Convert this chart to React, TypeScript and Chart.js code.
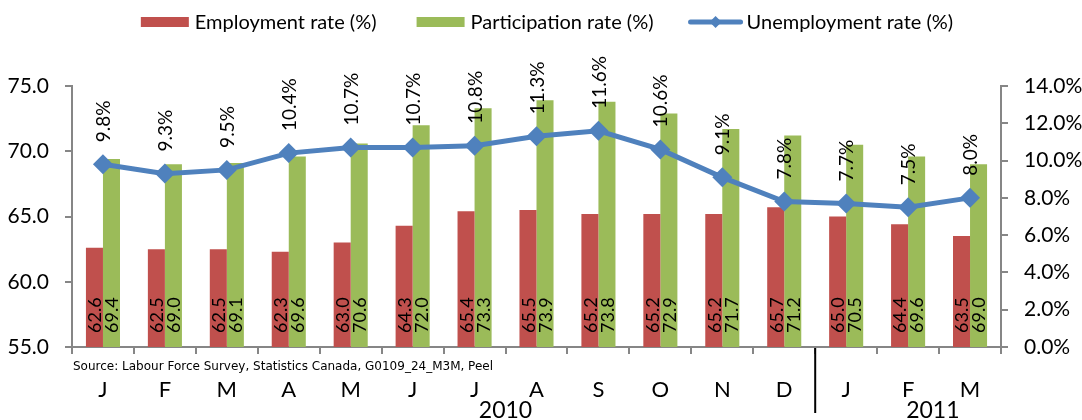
import React, { useEffect, useRef } from 'react';
import { Chart, registerables } from 'chart.js';

Chart.register(...registerables);

const months = ['J', 'F', 'M', 'A', 'M', 'J', 'J', 'A', 'S', 'O', 'N', 'D', 'J', 'F', 'M'];
const employmentRate = [62.6, 62.5, 62.5, 62.3, 63.0, 64.3, 65.4, 65.5, 65.2, 65.2, 65.2, 65.7, 65.0, 64.4, 63.5];
const participationRate = [69.4, 69.0, 69.1, 69.6, 70.6, 72.0, 73.3, 73.9, 73.8, 72.9, 71.7, 71.2, 70.5, 69.6, 69.0];
const unemploymentRate = [9.8, 9.3, 9.5, 10.4, 10.7, 10.7, 10.8, 11.3, 11.6, 10.6, 9.1, 7.8, 7.7, 7.5, 8.0];
const seriesNames = ['Employment rate (%)', 'Participation rate (%)', 'Unemployment rate (%)'];
const yearLabels = ['2010', '2011'];
const yearLabelPositions = [6.5, 13.4];
const yearBreakAfter = 11;
const sourceNote = 'Source: Labour Force Survey, Statistics Canada, G0109_24_M3M, Peel';

const RED = '#C0504D';
const GREEN = '#9BBB59';
const BLUE = '#4F81BD';
const AXIS = '#868686';
const FONT = 'Lato, "Open Sans", sans-serif';

function diamond(ctx: CanvasRenderingContext2D, x: number, y: number, r: number) {
  ctx.beginPath();
  ctx.moveTo(x, y - r);
  ctx.lineTo(x + r, y);
  ctx.lineTo(x, y + r);
  ctx.lineTo(x - r, y);
  ctx.closePath();
  ctx.fill();
}

const overlayPlugin = {
  id: 'overlay',
  afterDatasetsDraw(chart: any) {
    const ctx: CanvasRenderingContext2D = chart.ctx;
    const area = chart.chartArea;
    ctx.save();
    const barSeries = [employmentRate, participationRate];
    [0, 1].forEach((di) => {
      const meta = chart.getDatasetMeta(di);
      meta.data.forEach((el: any, i: number) => {
        const p = el.getProps(['x'], true);
        ctx.save();
        ctx.fillStyle = '#000';
        ctx.translate(p.x, area.bottom - 14);
        ctx.rotate(-Math.PI / 2);
        ctx.font = `18px ${FONT}`;
        ctx.textAlign = 'left';
        ctx.textBaseline = 'middle';
        ctx.fillText(barSeries[di][i].toFixed(1), 0, 1);
        ctx.restore();
      });
    });
    const lmeta = chart.getDatasetMeta(2);
    lmeta.data.forEach((el: any, i: number) => {
      const p = el.getProps(['x', 'y'], true);
      ctx.save();
      ctx.fillStyle = '#000';
      ctx.translate(p.x + 1, p.y - 22);
      ctx.rotate(-Math.PI / 2);
      ctx.font = `19px ${FONT}`;
      ctx.textAlign = 'left';
      ctx.textBaseline = 'middle';
      ctx.fillText(unemploymentRate[i].toFixed(1) + '%', 0, 0);
      ctx.restore();
    });
    ctx.restore();
  },
  afterDraw(chart: any) {
    const ctx: CanvasRenderingContext2D = chart.ctx;
    const xs = chart.scales.x;
    const area = chart.chartArea;
    const step = xs.getPixelForValue(1) - xs.getPixelForValue(0);
    ctx.save();
    ctx.fillStyle = '#000';
    ctx.font = '12px "DejaVu Sans", sans-serif';
    ctx.textAlign = 'left';
    ctx.textBaseline = 'middle';
    ctx.fillText(sourceNote, area.left + 1, area.bottom + 20, 454);
    ctx.font = `23px ${FONT}`;
    ctx.textAlign = 'center';
    ctx.textBaseline = 'top';
    yearLabels.forEach((y, i) => {
      const x = xs.getPixelForValue(0) + yearLabelPositions[i] * step;
      ctx.fillText(y, x, area.bottom + 52);
    });
    const dx = xs.getPixelForValue(yearBreakAfter) + step / 2;
    ctx.strokeStyle = '#000';
    ctx.lineWidth = 2;
    ctx.beginPath();
    ctx.moveTo(dx, area.bottom + 1);
    ctx.lineTo(dx, area.bottom + 66);
    ctx.stroke();
    // legend
    ctx.font = `20px ${FONT}`;
    ctx.textBaseline = 'middle';
    ctx.textAlign = 'left';
    const sws = [48, 48, 54];
    const gaps = [6, 6, 4];
    const itemGaps = [40, 35, 0];
    const widths = seriesNames.map((n) => ctx.measureText(n).width);
    const total = widths.reduce((a, b) => a + b, 0) + sws.reduce((a, b) => a + b, 0) + gaps.reduce((a, b) => a + b, 0) + itemGaps.reduce((a, b) => a + b, 0);
    let x = 547 - total / 2;
    const ly = 22;
    const colors = [RED, GREEN, BLUE];
    seriesNames.forEach((n, i) => {
      const sw = sws[i];
      if (i < 2) {
        ctx.fillStyle = colors[i];
        ctx.fillRect(x, ly - 5, sw, 10);
      } else {
        ctx.strokeStyle = BLUE;
        ctx.lineWidth = 5;
        ctx.lineCap = 'round';
        ctx.beginPath();
        ctx.moveTo(x + 2, ly);
        ctx.lineTo(x + sw - 2, ly);
        ctx.stroke();
        ctx.fillStyle = BLUE;
        diamond(ctx, x + sw / 2, ly, 6);
      }
      ctx.fillStyle = '#000';
      ctx.fillText(n, x + sw + gaps[i], ly + 1);
      x += sw + gaps[i] + widths[i] + itemGaps[i];
    });
    ctx.restore();
  },
};

export default function App() {
  const ref = useRef<HTMLCanvasElement>(null);
  useEffect(() => {
    if (!ref.current) return;
    const chart = new Chart(ref.current, {
      type: 'bar',
      data: {
        labels: months,
        datasets: [
          {
            type: 'bar',
            label: seriesNames[0],
            data: employmentRate,
            backgroundColor: RED,
            yAxisID: 'y',
            order: 1,
            categoryPercentage: 0.55,
            barPercentage: 1.0,
          },
          {
            type: 'bar',
            label: seriesNames[1],
            data: participationRate,
            backgroundColor: GREEN,
            yAxisID: 'y',
            order: 1,
            categoryPercentage: 0.55,
            barPercentage: 1.0,
          },
          {
            type: 'line',
            label: seriesNames[2],
            data: unemploymentRate,
            borderColor: BLUE,
            backgroundColor: BLUE,
            borderWidth: 5,
            pointStyle: 'rectRot',
            pointRadius: 10,
            pointBorderWidth: 0,
            pointBackgroundColor: BLUE,
            yAxisID: 'y1',
            order: 0,
            tension: 0,
          } as any,
        ],
      },
      options: {
        animation: false,
        responsive: false,
        layout: { padding: { top: 86, left: 0, right: 0, bottom: 0 } },
        plugins: {
          legend: { display: false },
          tooltip: { enabled: false },
        },
        scales: {
          x: {
            offset: true,
            grid: { drawOnChartArea: false, drawTicks: true, tickLength: 7, color: AXIS, lineWidth: 2, offset: true },
            border: { color: AXIS, width: 2 },
            ticks: { font: { family: FONT, size: 22 }, color: '#000', padding: 23, maxRotation: 0, autoSkip: false },
            afterFit: (s: any) => { s.height = 73; },
          },
          y: {
            position: 'left',
            min: 55,
            max: 75,
            grid: { drawOnChartArea: false, drawTicks: true, tickLength: 7, color: AXIS, lineWidth: 2 },
            border: { color: AXIS, width: 2 },
            ticks: {
              stepSize: 5,
              font: { family: FONT, size: 21 },
              color: '#000',
              padding: 16,
              callback: (v: any) => Number(v).toFixed(1),
            },
            afterFit: (s: any) => { s.width = 72; },
          },
          y1: {
            position: 'right',
            min: 0,
            max: 14,
            grid: { drawOnChartArea: false, drawTicks: true, tickLength: 7, color: AXIS, lineWidth: 2 },
            border: { color: AXIS, width: 2 },
            ticks: {
              stepSize: 2,
              font: { family: FONT, size: 21 },
              color: '#000',
              padding: 16,
              callback: (v: any) => Number(v).toFixed(1) + '%',
            },
            afterFit: (s: any) => { s.width = 81; },
          },
        },
      },
      plugins: [overlayPlugin],
    });
    return () => chart.destroy();
  }, []);
  return (
    <div style={{ position: 'absolute', left: 0, top: 0, width: 1082, height: 420, background: '#fff' }}>
      <canvas ref={ref} width={1082} height={420} style={{ width: 1082, height: 420, display: 'block' }} />
    </div>
  );
}
